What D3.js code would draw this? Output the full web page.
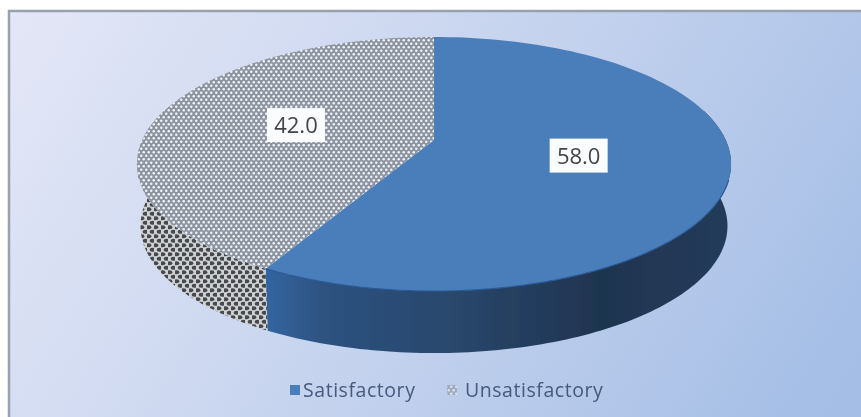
<!DOCTYPE html>
<html><head><meta charset="utf-8">
<script src="https://cdn.jsdelivr.net/npm/d3@7"></script>
<style>html,body{margin:0;padding:0;background:#fff;overflow:hidden}svg{display:block}text{font-family:"Open Sans",sans-serif}</style>
</head><body><svg id="c" width="861" height="417"></svg>
<script>
const categories = ["Satisfactory", "Unsatisfactory"];
const seriesValues = [58.0, 42.0];

const svg = d3.select("#c");
const defs = svg.append("defs");

const bg = defs.append("linearGradient").attr("id","bg").attr("gradientUnits","userSpaceOnUse")
  .attr("x1",30).attr("y1",-30).attr("x2",800).attr("y2",450);
[[0,"#e4e7f7"],[.35,"#d0daf1"],[.7,"#b9cbeb"],[1,"#a4bee6"]].forEach(([o,c])=>bg.append("stop").attr("offset",o).attr("stop-color",c));

const wallBlue = defs.append("linearGradient").attr("id","wallBlue").attr("gradientUnits","userSpaceOnUse")
  .attr("x1",268).attr("y1",0).attr("x2",730).attr("y2",0);
[[0,"#33659f"],[.12,"#2d5280"],[.4,"#29476c"],[.72,"#1f3450"],[1,"#223b5a"]].forEach(([o,c])=>wallBlue.append("stop").attr("offset",o).attr("stop-color",c));

const pTop = defs.append("pattern").attr("id","dotsTop").attr("patternUnits","userSpaceOnUse").attr("width",5).attr("height",7);
pTop.append("rect").attr("width",5).attr("height",7).attr("fill","#8c94a1");
[[1.25,1.75],[3.75,5.25]].forEach(([x,y])=>pTop.append("circle").attr("cx",x).attr("cy",y).attr("r",1.25).attr("fill","#f2f4f7"));

const pSide = defs.append("pattern").attr("id","dotsSide").attr("patternUnits","userSpaceOnUse").attr("width",7).attr("height",9);
pSide.append("rect").attr("width",7).attr("height",9).attr("fill","#cfd2d5");
[[1.75,2.25],[5.25,6.75]].forEach(([x,y])=>pSide.append("ellipse").attr("cx",x).attr("cy",y).attr("rx",2.6).attr("ry",2.1).attr("fill","#46484c"));

const soft = defs.append("filter").attr("id","soft").attr("x","-5%").attr("y","-5%").attr("width","110%").attr("height","110%");
soft.append("feGaussianBlur").attr("stdDeviation",0.7);

// backdrop
svg.append("rect").attr("x",9).attr("y",11).attr("width",860).attr("height",420).attr("fill","url(#bg)");
svg.append("path").attr("d","M9,417V11H861").attr("fill","none").attr("stroke","#98a2ae").attr("stroke-width",2.5);

// tilted disc: d3.pie gives the angles, the projection places them
const pie = d3.pie().sort(null).value(d=>d);
const slices = pie(seriesValues);
const cx=434, cy=140, A=291.7, B=122.5, k=0.189, depth=62, shrink=0.988;
const project = (a,r=1)=>{
  const u=Math.sin(a)*r, v=Math.cos(a)*r, w=1+k*v;
  return [cx+A*u/w, cy-B*v/w];
};
const lower = ([x,y])=>[cx+(x-cx)*shrink, y+depth];
const line = d3.line();
const rim = (a0,a1)=>d3.range(0,121).map(i=>project(a0+(a1-a0)*i/120));

const fillTop = ["#4a7ebb","url(#dotsTop)"];
const fillSide = ["url(#wallBlue)","url(#dotsSide)"];
const g = svg.append("g").attr("filter","url(#soft)");

// walls: only the part of each slice facing the viewer
const front0 = Math.PI*0.42, front1 = Math.PI*1.58;
slices.forEach((s,i)=>{
  const a0=Math.max(s.startAngle,front0), a1=Math.min(s.endAngle,front1);
  const top=rim(a0,a1);
  g.append("path").attr("d",line(top.concat(top.map(lower).reverse()))+"Z").attr("fill",fillSide[i]);
});
// top faces
slices.forEach((s,i)=>{
  g.append("path").attr("d",line([[cx,cy]].concat(rim(s.startAngle,s.endAngle)))+"Z").attr("fill",fillTop[i]);
});
g.append("path").attr("d",line(rim(slices[0].startAngle+Math.PI*0.6,slices[0].endAngle)))
  .attr("fill","none").attr("stroke","#2a5a94").attr("stroke-width",1.2);

// value labels
slices.forEach(s=>{
  const [x,y]=project((s.startAngle+s.endAngle)/2,0.5);
  const lg=g.append("g").attr("transform",`translate(${x},${y})`);
  lg.append("rect").attr("x",-29).attr("y",-17).attr("width",58).attr("height",34).attr("fill","#fbfcfd");
  lg.append("text").attr("text-anchor","middle").attr("y",8).attr("font-size",22).attr("fill","#454545").text(s.value.toFixed(1));
});

// legend
const legendX=[303,465], swatchX=[290,447];
categories.forEach((c,i)=>{
  g.append("rect").attr("x",swatchX[i]).attr("y",385).attr("width",10).attr("height",10)
    .attr("fill",i?"url(#dotsTop)":"#4a7ebb").attr("opacity",i?0.6:1);
  g.append("text").attr("x",legendX[i]).attr("y",397).attr("font-size",19.5).attr("letter-spacing",0.55).attr("fill","#445a7c").text(c);
});
</script></body></html>
